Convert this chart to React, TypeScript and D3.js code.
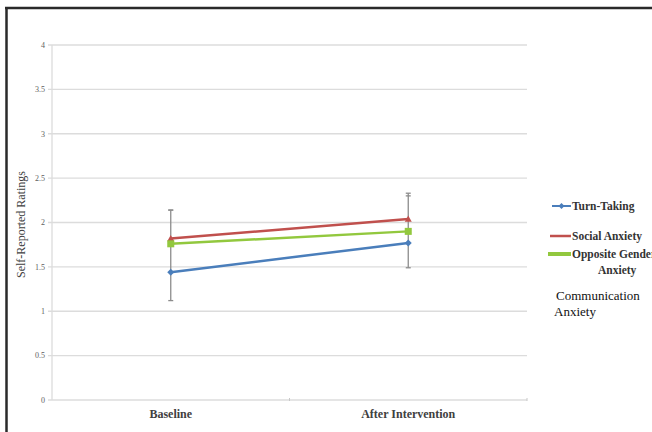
import React from "react";
import * as d3 from "d3";

const categories = ["Baseline", "After Intervention"];
const yTicks = [0, 0.5, 1, 1.5, 2, 2.5, 3, 3.5, 4];
const turnTaking = [1.44, 1.77];
const socialAnxiety = [1.82, 2.04];
const oppositeGender = [1.76, 1.9];
const errLow = [1.12, 1.49];
const errHigh = [2.14, 2.33];
const errHigh2 = [2.14, 2.3];

const W = 652;
const H = 432;
const m = { left: 52, right: 527, top: 45, bottom: 400 };

export default function App() {
  const y = d3.scaleLinear().domain([0, 4]).range([m.bottom, m.top]);
  const x = d3.scaleBand().domain(categories).range([m.left, m.right]);
  const cx = (c: string) => (x(c) as number) + x.bandwidth() / 2;
  const line = d3
    .line<number>()
    .x((_, i) => cx(categories[i]))
    .y((d) => y(d));
  const font = '"Liberation Serif", "DejaVu Serif", "Times New Roman", serif';
  const blue = "#4a7ebb";
  const red = "#c0504d";
  const green = "#92c83e";
  const errColor = "#8c8c8c";

  const diamond = (px: number, py: number, s: number, col: string, k: string) => (
    <path key={k} d={`M${px},${py - s}L${px + s},${py}L${px},${py + s}L${px - s},${py}Z`} fill={col} />
  );
  const triangle = (px: number, py: number, s: number, col: string, k: string) => (
    <path key={k} d={`M${px},${py - s}L${px + s},${py + s * 0.8}L${px - s},${py + s * 0.8}Z`} fill={col} />
  );
  const square = (px: number, py: number, s: number, col: string, k: string) => (
    <rect key={k} x={px - s} y={py - s} width={2 * s} height={2 * s} fill={col} />
  );

  return (
    <svg width={W} height={H} style={{ position: "absolute", left: 0, top: 0, background: "#fff", fontFamily: font }}>
      <rect x={0} y={0} width={W} height={H} fill="#fff" />
      {/* frame */}
      <line x1={5} x2={W} y1={8} y2={8} stroke="#2a2a2a" strokeWidth={2.5} />
      <line x1={6.5} x2={6.5} y1={7} y2={H} stroke="#2a2a2a" strokeWidth={2.5} />

      {/* gridlines */}
      {yTicks.map((t) => (
        <g key={t}>
          <line x1={m.left - 4} x2={m.right} y1={y(t)} y2={y(t)} stroke="#dcdcdc" strokeWidth={1.3} />
          <text x={45} y={y(t)} dy="0.35em" textAnchor="end" fontSize={8} fill="#606060" style={{ fontFamily: font }}>
            {t}
          </text>
        </g>
      ))}
      <line x1={m.left} x2={m.left} y1={m.top} y2={m.bottom} stroke="#dcdcdc" strokeWidth={1.3} />
      {[m.left + x.bandwidth(), m.right].map((tx, i) => (
        <line key={i} x1={tx} x2={tx} y1={m.bottom - 2} y2={m.bottom + 1} stroke="#c8c8c8" strokeWidth={1} />
      ))}

      {categories.map((c) => (
        <text key={c} x={cx(c)} y={418} textAnchor="middle" fontSize={12} fontWeight="bold" fill="#404040" style={{ fontFamily: font }}>
          {c}
        </text>
      ))}

      <text
        transform={`translate(25,${(m.top + m.bottom) / 2 + 2}) rotate(-90)`}
        textAnchor="middle"
        fontSize={12}
        fill="#404040"
        style={{ fontFamily: font }}
      >
        Self-Reported Ratings
      </text>

      {/* error bars */}
      {categories.map((c, i) => (
        <g key={c} stroke={errColor} strokeWidth={1.3}>
          <line x1={cx(c)} x2={cx(c)} y1={y(errLow[i])} y2={y(errHigh[i])} />
          <line x1={cx(c) - 2.5} x2={cx(c) + 2.5} y1={y(errLow[i])} y2={y(errLow[i])} />
          <line x1={cx(c) - 2.5} x2={cx(c) + 2.5} y1={y(errHigh[i])} y2={y(errHigh[i])} />
          <line x1={cx(c) - 2.5} x2={cx(c) + 2.5} y1={y(errHigh2[i])} y2={y(errHigh2[i])} />
        </g>
      ))}

      {/* series */}
      <path d={line(socialAnxiety) as string} fill="none" stroke={red} strokeWidth={2.5} />
      <path d={line(oppositeGender) as string} fill="none" stroke={green} strokeWidth={2.5} />
      <path d={line(turnTaking) as string} fill="none" stroke={blue} strokeWidth={2.5} />
      {socialAnxiety.map((v, i) => triangle(cx(categories[i]), y(v), 3.5, red, "r" + i))}
      {oppositeGender.map((v, i) => square(cx(categories[i]), y(v), 3.5, green, "g" + i))}
      {turnTaking.map((v, i) => diamond(cx(categories[i]), y(v), 3.5, blue, "b" + i))}

      {/* legend */}
      <g style={{ fontFamily: font }}>
        <line x1={552} x2={571} y1={206} y2={206} stroke={blue} strokeWidth={2} />
        {diamond(561.5, 206, 3, blue, "lb")}
        <text x={572} y={206} dy="0.35em" fontSize={11.5} fontWeight="bold" fill="#333">Turn-Taking</text>
        <line x1={550} x2={571} y1={236} y2={236} stroke={red} strokeWidth={2.5} />
        <text x={572} y={236} dy="0.35em" fontSize={11.5} fontWeight="bold" fill="#333">Social Anxiety</text>
        <line x1={548} x2={571} y1={254} y2={254} stroke={green} strokeWidth={4} />
        <text x={572} y={254} dy="0.35em" fontSize={11.5} fontWeight="bold" fill="#333">Opposite Gender</text>
        <text x={598} y={270} dy="0.35em" fontSize={11.5} fontWeight="bold" fill="#333">Anxiety</text>
        <text x={556} y={295} dy="0.35em" fontSize={13} fill="#111">Communication</text>
        <text x={554} y={311} dy="0.35em" fontSize={13} fill="#111">Anxiety</text>
      </g>
    </svg>
  );
}
